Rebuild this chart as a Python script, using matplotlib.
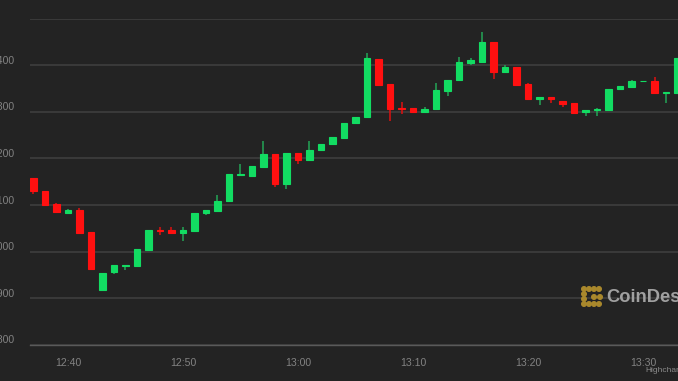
import matplotlib
matplotlib.use("Agg")
from matplotlib import pyplot as plt
import matplotlib.dates as mdates
import matplotlib.transforms as mtransforms
import matplotlib.patches as mpatches
import pandas as pd

# one-minute candles starting 12:37
times = pd.date_range("2020-05-01 12:37", periods=57, freq="min")
opens = [9159, 9131, 9103, 9084, 9090, 9042, 8918, 8956, 8970, 8969,
         9004, 9046, 9046, 9040, 9045, 9083, 9088, 9108, 9164, 9163,
         9181, 9209, 9146, 9212, 9197, 9218, 9230, 9243, 9277, 9289,
         9413, 9359, 9308, 9308, 9300, 9306, 9344, 9368, 9405, 9407,
         9449, 9386, 9395, 9359, 9328, 9331, 9324, 9318, 9299, 9304,
         9304, 9348, 9353, 9365, 9366, 9340, 9340]
highs = [9159, 9131, 9104, 9092, 9093, 9042, 8955, 8971, 8972, 9006,
         9047, 9052, 9052, 9053, 9083, 9090, 9122, 9166, 9187, 9184,
         9237, 9209, 9212, 9212, 9237, 9230, 9245, 9277, 9288, 9427,
         9413, 9359, 9320, 9308, 9310, 9361, 9369, 9418, 9416, 9472,
         9449, 9401, 9395, 9361, 9331, 9331, 9324, 9318, 9304, 9309,
         9349, 9355, 9368, 9366, 9374, 9343, 9415]
lows = [9124, 9100, 9086, 9082, 9041, 8963, 8918, 8952, 8961, 8967,
        9001, 9036, 9040, 9024, 9045, 9078, 9088, 9108, 9164, 9163,
        9181, 9138, 9134, 9188, 9197, 9218, 9230, 9243, 9275, 9289,
        9358, 9281, 9295, 9300, 9300, 9306, 9333, 9368, 9401, 9407,
        9371, 9386, 9358, 9328, 9314, 9318, 9310, 9298, 9291, 9291,
        9304, 9348, 9353, 9365, 9340, 9318, 9340]
closes = [9130, 9100, 9086, 9090, 9041, 8963, 8955, 8971, 8972, 9006,
          9047, 9045, 9040, 9046, 9083, 9090, 9108, 9166, 9166, 9183,
          9209, 9146, 9212, 9196, 9219, 9230, 9245, 9277, 9288, 9415,
          9358, 9306, 9306, 9300, 9307, 9346, 9369, 9406, 9410, 9449,
          9386, 9395, 9358, 9328, 9331, 9328, 9317, 9298, 9304, 9306,
          9349, 9355, 9365, 9366, 9340, 9343, 9415]

y_ticks = [8800, 8900, 9000, 9100, 9200, 9300, 9400, 9500]
y_labels = ["8,800", "8,900", "9,000", "9,100", "9,200", "9,300", "9,400", ""]

bg = "#232323"
up_body, up_wick = "#12dc62", "#23a556"
down_body, down_wick = "#ff1010", "#e01010"

fig = plt.figure(figsize=(6.78, 3.81), dpi=100, facecolor=bg)
ax = fig.add_axes([30 / 678, 36 / 381, 1 - 30 / 678, 326.5 / 381])
ax.set_facecolor(bg)

x = mdates.date2num(times)
minute = 1 / 1440
w = 0.57 * minute
for xi, o, h, l, c in zip(x, opens, highs, lows, closes):
    up = c >= o
    ax.vlines(xi, l, h, color=up_wick if up else down_wick, linewidth=1.1, zorder=2)
    ax.bar(xi, abs(c - o), w, bottom=min(o, c),
           color=up_body if up else down_body,
           edgecolor=up_body if up else down_body, linewidth=0.8, zorder=3)

ax.set_xlim(x[0] - 0.3 * minute, x[0] + 56.04 * minute)
ax.set_ylim(8800, 9500)

ax.set_yticks(y_ticks)
ax.set_yticklabels(y_labels)
ax.xaxis.set_major_locator(mdates.MinuteLocator(byminute=[0, 10, 20, 30, 40, 50]))
ax.xaxis.set_major_formatter(mdates.DateFormatter("%H:%M"))

ax.grid(axis="y", color="#3a3a3a", linewidth=1.4)
ax.set_axisbelow(True)
for s in ["top", "right", "left"]:
    ax.spines[s].set_visible(False)
ax.spines["bottom"].set_color("#5a5a5a")
ax.spines["bottom"].set_linewidth(1)

ax.tick_params(axis="both", length=0, colors="#828282", labelsize=7.6)
ax.tick_params(axis="y", pad=11)
ax.tick_params(axis="x", pad=9)
shift = mtransforms.ScaledTranslation(0, 0.06, fig.dpi_scale_trans)
for lab in ax.get_yticklabels():
    lab.set_fontfamily("Liberation Sans")
    lab.set_transform(lab.get_transform() + shift)
for lab in ax.get_xticklabels():
    lab.set_fontfamily("Liberation Sans")

# CoinDesk watermark: bracket of gold dots
gold = "#a9882c"
dots = [(584, 289), (589, 289), (594, 289), (599, 289),
        (584, 294), (584, 299),
        (584, 304), (589, 304), (594, 304), (599, 304),
        (594, 297), (600, 297)]
for (px, py) in dots:
    fig.patches.append(mpatches.Ellipse((px / 678, 1 - py / 381), 4.6 / 678, 4.6 / 381,
                                        transform=fig.transFigure, color=gold, zorder=5))
fig.text(606 / 678, 1 - 297 / 381, "CoinDesk", color="#a0a0a0", fontsize=13.2,
         fontweight="bold", family="Liberation Sans", va="center", ha="left")
fig.text(645 / 678, 1 - 371 / 381, "Highcharts.com", color="#8a8a8a", fontsize=6,
         family="Liberation Sans", va="center", ha="left")

fig.savefig("out.png", dpi=100, facecolor=bg)
